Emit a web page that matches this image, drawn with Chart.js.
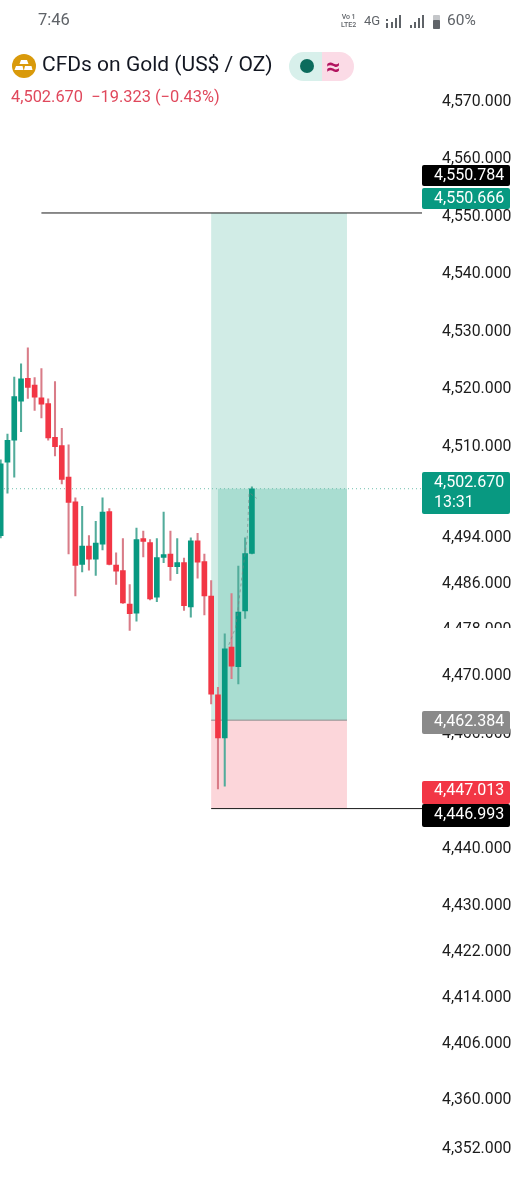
<!DOCTYPE html>
<html>
<head>
<meta charset="utf-8">
<title>CFDs on Gold</title>
<script src="https://cdn.jsdelivr.net/npm/chart.js@4"></script>
<style>
  html, body { margin: 0; padding: 0; background: #fff; }
  body { width: 518px; height: 1200px; position: relative; overflow: hidden; font-family: Roboto, sans-serif; }
  canvas { position: absolute; left: 0; top: 0; }
  .txt { position: absolute; white-space: pre; line-height: 1; }
  #clock { left: 38px; top: 12px; font-size: 16.5px; color: #5f6368; }
  #net { left: 364px; top: 14px; font-size: 13px; color: #5f6368; }
  #volte { left: 341px; top: 14px; font-size: 7px; line-height: 7.5px; color: #5f6368; text-align: center; font-weight: 500; }
  #batt { left: 447px; top: 13px; font-size: 15.5px; color: #5f6368; }
  #title { left: 42px; top: 54px; font-size: 21px; color: #131722; }
  #quote { left: 11px; top: 89px; font-size: 16.4px; color: #e0485c; }
  #pillg { position: absolute; left: 289px; top: 52px; width: 33px; height: 29px; background: #d8f0eb; border-radius: 15px 0 0 15px; }
  #pillr { position: absolute; left: 322px; top: 52px; width: 32px; height: 29px; background: #fbdbe6; border-radius: 0 15px 15px 0; }
  #dot { position: absolute; left: 300px; top: 59px; width: 14px; height: 14px; border-radius: 50%; background: #0b6b5c; }
  #wave { left: 326px; top: 54px; font-size: 25px; font-weight: 700; color: #b3145f; }
  svg { position: absolute; }
</style>
</head>
<body>
<canvas id="chart" width="518" height="1200"></canvas>
<div class="txt" id="clock">7:46</div>
<div class="txt" id="volte">Vo&#8201;1<br>LTE2</div>
<div class="txt" id="net">4G</div>
<svg style="left:384px;top:14px" width="70" height="16" fill="#5f6368">
  <rect x="2" y="5" width="2" height="2"/><rect x="2" y="9" width="2" height="5"/>
  <rect x="7" y="8" width="2" height="6"/><rect x="11" y="4" width="2" height="10"/>
  <rect x="15" y="1" width="2" height="13"/>
  <rect x="26" y="11" width="2" height="3"/><rect x="30" y="8" width="2" height="6"/>
  <rect x="34" y="4" width="2" height="10"/><rect x="38" y="1" width="2" height="13"/>
  <rect x="49" y="1" width="7" height="14" rx="1" fill="#c4c6c9"/><rect x="49" y="6" width="7" height="9" rx="1"/>
</svg>
<div class="txt" id="batt">60%</div>

<svg style="left:12px;top:54px" width="24" height="24">
  <circle cx="12" cy="12" r="12" fill="#d99a0b"/>
  <path d="M9 6h6l1.5 4h-9zM4 12h6.5l1 4h-9zM13 12h6.5l1 4h-8.5z" fill="#fff"/>
</svg>
<div class="txt" id="title">CFDs on Gold (US$ / OZ)</div>
<div id="pillg"></div><div id="pillr"></div><div id="dot"></div>
<div class="txt" id="wave">≈</div>
<div class="txt" id="quote">4,502.670  −19.323 (−0.43%)</div>

<script>
// candles, oldest first
const opens  = [4494.5, 4507.3, 4511.1, 4517.9, 4521.9, 4520.7, 4518.5, 4517.5, 4511.6, 4510.2, 4504.7, 4500.4, 4489.5, 4492.7, 4490.4, 4493.0, 4498.7, 4489.4, 4488.4, 4482.6, 4481.0, 4494.0, 4493.3, 4483.8, 4490.7, 4491.3, 4489.1, 4489.8, 4482.1, 4493.6, 4490.0, 4484.0, 4466.8, 4459.3, 4475.1, 4471.7, 4481.4, 4491.4];
const closes = [4507.0, 4511.1, 4518.7, 4521.8, 4520.3, 4518.6, 4517.4, 4511.5, 4510.0, 4504.3, 4500.3, 4489.3, 4492.7, 4490.4, 4493.2, 4498.6, 4489.5, 4488.3, 4482.8, 4480.9, 4493.8, 4493.5, 4483.5, 4490.7, 4491.2, 4489.1, 4489.8, 4482.3, 4493.6, 4489.9, 4484.0, 4466.9, 4459.3, 4474.8, 4471.8, 4481.2, 4491.4, 4502.67];
const highs  = [4507.7, 4512.2, 4522.1, 4524.4, 4527.2, 4522.0, 4523.6, 4518.3, 4521.3, 4513.2, 4510.3, 4501.1, 4499.6, 4494.5, 4497.0, 4501.1, 4499.2, 4491.5, 4494.0, 4486.0, 4495.8, 4495.3, 4493.8, 4494.0, 4498.6, 4495.3, 4494.0, 4490.6, 4494.1, 4494.9, 4491.3, 4486.7, 4468.1, 4477.4, 4484.4, 4489.2, 4494.1, 4503.0];
const lows   = [4494.1, 4501.9, 4504.7, 4512.6, 4518.4, 4516.3, 4515.0, 4511.1, 4508.4, 4503.5, 4491.3, 4484.0, 4488.2, 4488.5, 4487.6, 4492.0, 4489.4, 4486.0, 4482.7, 4478.0, 4479.6, 4490.8, 4483.3, 4483.0, 4489.8, 4486.7, 4487.9, 4481.5, 4480.3, 4487.1, 4480.7, 4465.2, 4450.4, 4450.9, 4469.6, 4468.7, 4480.1, 4491.3];

// right axis: where each label sits, and what it says
const tickValues = [4570, 4560, 4550, 4540, 4530, 4520, 4510, 4494, 4486, 4478, 4470, 4460, 4440, 4430, 4422, 4414, 4406, 4396.2, 4387.8];
const tickLabels = ['4,570.000', '4,560.000', '4,550.000', '4,540.000', '4,530.000', '4,520.000', '4,510.000', '4,494.000', '4,486.000', '4,478.000', '4,470.000', '4,460.000', '4,440.000', '4,430.000', '4,422.000', '4,414.000', '4,406.000', '4,360.000', '4,352.000'];

// position tool
const targetPrice = 4550.666;
const entryPrice = 4462.384;
const stopPrice = 4446.993;
const lastPrice = 4502.670;

// dashed path through the last candles
const pathX = [33.6, 34.6, 35.6, 36.3, 36.6, 37.7];
const pathY = [4475.5, 4478.5, 4488, 4494, 4502, 4501];

const GREEN = '#089981';
const RED = '#f23645';
const color = opens.map((o, i) => closes[i] >= o ? GREEN : RED);
const wickColor = opens.map((o, i) => closes[i] >= o ? '#52ac9b' : '#d97c88');

function tag(ctx, x, y, w, h, fill, lines) {
  ctx.fillStyle = fill;
  ctx.beginPath();
  ctx.roundRect(x, y, w, h, 2);
  ctx.fill();
  ctx.fillStyle = '#fff';
  ctx.font = '16px Roboto';
  ctx.textBaseline = 'middle';
  ctx.textAlign = 'left';
  lines.forEach(l => ctx.fillText(l[0], x + 12, l[1]));
}

const zones = {
  id: 'zones',
  beforeDatasetsDraw(chart) {
    const { ctx, scales: { x, y }, chartArea } = chart;
    const x0 = x.getPixelForValue(31), x1 = x.getPixelForValue(32), x2 = x.getPixelForValue(51);
    ctx.save();
    ctx.fillStyle = '#d1ece6';
    ctx.fillRect(x0, y.getPixelForValue(targetPrice), x2 - x0, y.getPixelForValue(entryPrice) - y.getPixelForValue(targetPrice));
    ctx.fillStyle = '#a9ddd1';
    ctx.fillRect(x1, y.getPixelForValue(lastPrice), x2 - x1, y.getPixelForValue(entryPrice) - y.getPixelForValue(lastPrice));
    ctx.fillStyle = '#fcd6da';
    ctx.fillRect(x0, y.getPixelForValue(entryPrice), x2 - x0, y.getPixelForValue(stopPrice) - y.getPixelForValue(entryPrice));
    ctx.fillStyle = '#8c8c8c';
    ctx.fillRect(x0, y.getPixelForValue(entryPrice) - 0.5, x2 - x0, 1);

    // last price dots
    ctx.strokeStyle = '#6fbfae';
    ctx.setLineDash([1, 3]);
    ctx.beginPath();
    ctx.moveTo(0, y.getPixelForValue(lastPrice));
    ctx.lineTo(chartArea.right, y.getPixelForValue(lastPrice));
    ctx.stroke();
    ctx.setLineDash([]);

    // target and stop lines
    ctx.strokeStyle = '#1a1a1a';
    ctx.lineWidth = 1;
    ctx.beginPath();
    ctx.moveTo(x.getPixelForValue(6), y.getPixelForValue(targetPrice));
    ctx.lineTo(chartArea.right, y.getPixelForValue(targetPrice));
    ctx.moveTo(x0, y.getPixelForValue(stopPrice));
    ctx.lineTo(chartArea.right, y.getPixelForValue(stopPrice));
    ctx.stroke();
    ctx.restore();
  },
  afterDraw(chart) {
    const ctx = chart.ctx;
    ctx.save();
    // the 4,478 label is cut off in the app
    ctx.fillStyle = '#fff';
    ctx.fillRect(425, 628, 93, 14);
    tag(ctx, 422, 165, 88, 21, '#000', [['4,550.784', 176]]);
    tag(ctx, 422, 188, 88, 21, GREEN, [['4,550.666', 199]]);
    tag(ctx, 422, 472, 88, 42, GREEN, [['4,502.670', 483], ['13:31', 503]]);
    tag(ctx, 422, 711, 88, 23, '#8a8a8a', [['4,462.384', 722]]);
    tag(ctx, 422, 781, 88, 23, RED, [['4,447.013', 791]]);
    tag(ctx, 422, 804, 88, 23, '#000', [['4,446.993', 815]]);
    ctx.restore();
  }
};

new Chart(document.getElementById('chart').getContext('2d'), {
  data: {
    datasets: [
      {
        type: 'line',
        data: pathX.map((px, i) => ({ x: px, y: pathY[i] })),
        borderColor: 'rgba(120,130,130,0.65)',
        borderWidth: 1,
        borderDash: [3, 3],
        pointRadius: 0,
        order: 0
      },
      {
        type: 'bar',
        data: opens.map((_, i) => ({ x: i, y: [lows[i], highs[i]] })),
        backgroundColor: wickColor,
        barThickness: 1.4,
        grouped: false,
        order: 2
      },
      {
        type: 'bar',
        data: opens.map((o, i) => ({ x: i, y: [o, closes[i]] })),
        backgroundColor: color,
        barThickness: 5,
        grouped: false,
        order: 1
      }
    ]
  },
  options: {
    responsive: false,
    animation: false,
    events: [],
    layout: { padding: 0 },
    plugins: { legend: { display: false }, tooltip: { enabled: false } },
    scales: {
      x: {
        type: 'linear',
        min: -0.1,
        max: 62.05,
        offset: false,
        display: false,
        afterFit(s) { s.height = 0; }
      },
      y: {
        position: 'right',
        min: 4382.6,
        max: 4584,
        grid: { display: false },
        border: { display: false },
        afterFit(s) { s.width = 96; },
        afterBuildTicks(s) { s.ticks = tickValues.map(v => ({ value: v })); },
        ticks: {
          autoSkip: false,
          padding: 12,
          color: '#1c1c1c',
          font: { family: 'Roboto', size: 15.8 },
          callback(value) { return tickLabels[tickValues.indexOf(value)]; }
        }
      }
    }
  },
  plugins: [zones]
});
</script>
</body>
</html>
